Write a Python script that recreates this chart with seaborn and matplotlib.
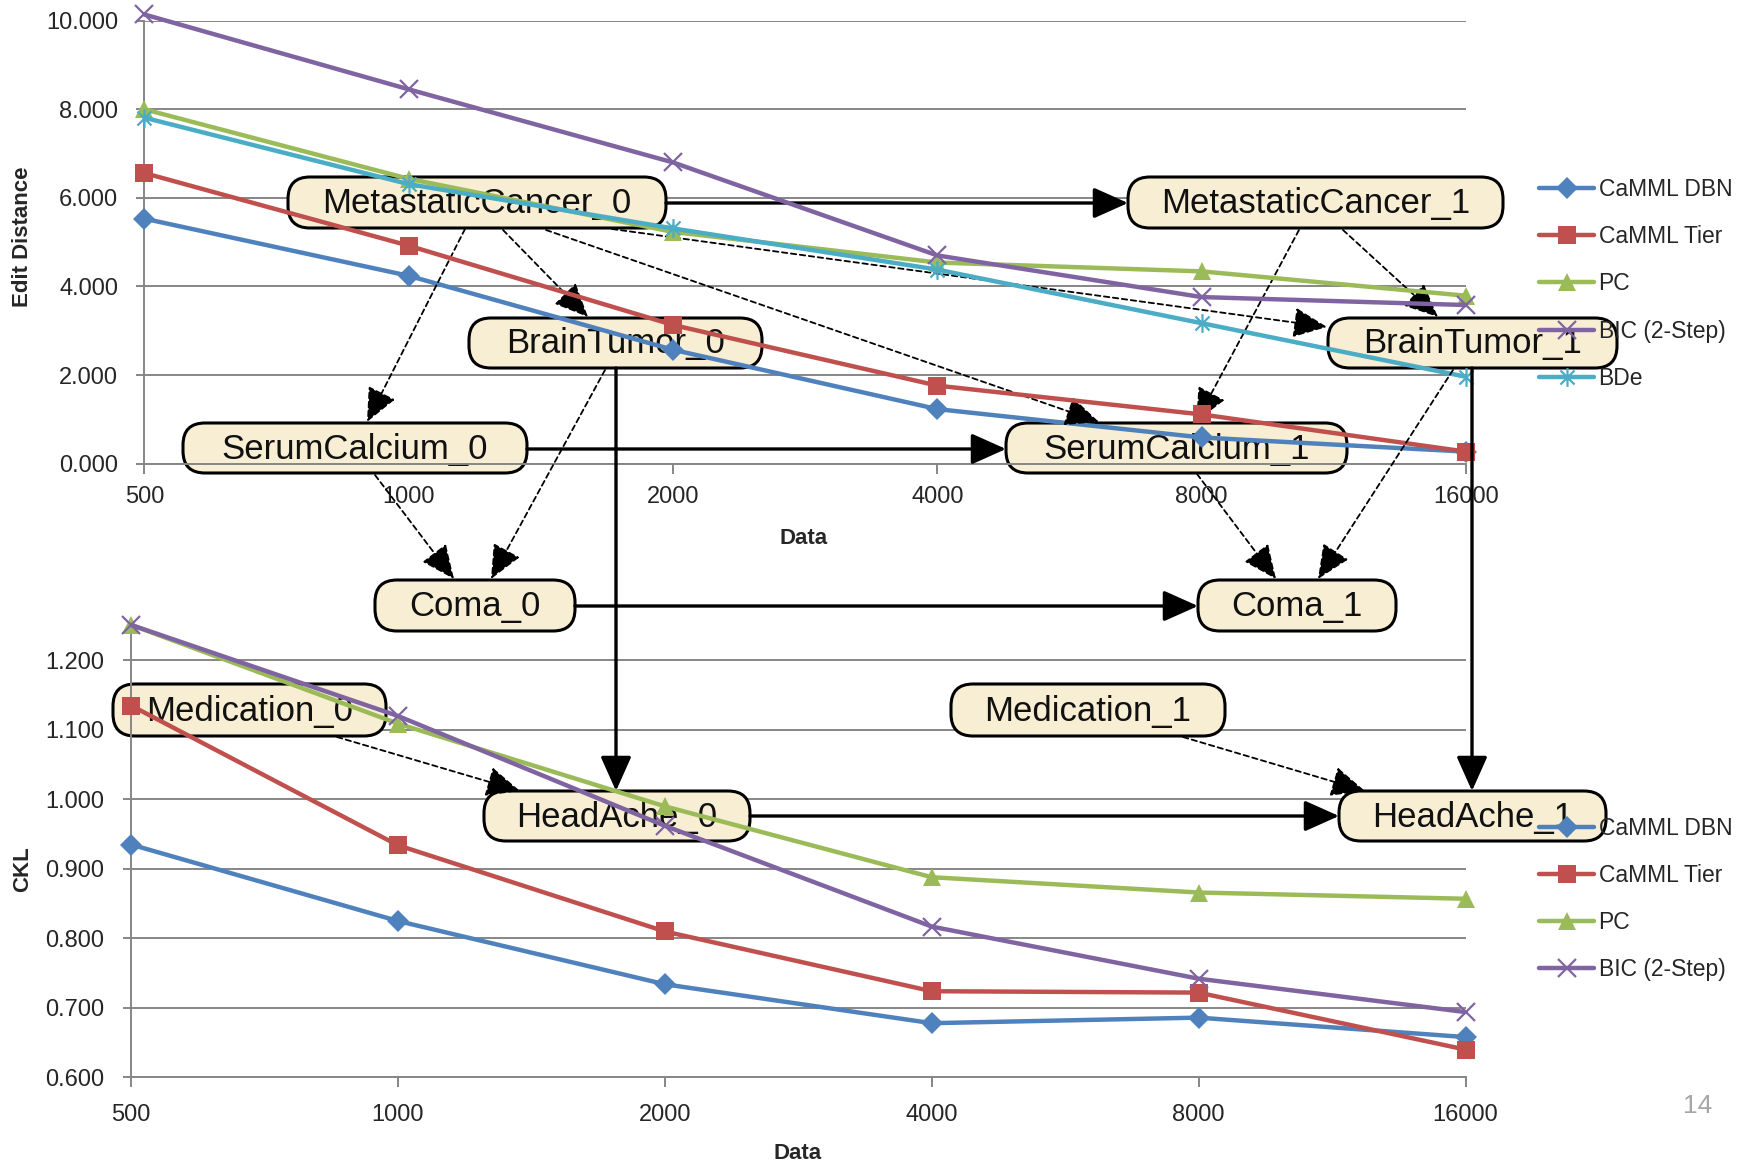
"""Edit distance / CKL line charts with the DBN structure drawn over them."""

import matplotlib
import numpy as np
import seaborn as sns

matplotlib.use("Agg")
import matplotlib.pyplot as plt
from matplotlib.patches import FancyBboxPatch
from matplotlib.path import Path
from matplotlib.transforms import Affine2D

# ---- data ----
data_sizes = ["500", "1000", "2000", "4000", "8000", "16000"]

edit_camml_dbn = [5.53, 4.24, 2.57, 1.23, 0.59, 0.27]
edit_camml_tier = [6.56, 4.92, 3.13, 1.76, 1.11, 0.27]
edit_pc = [8.00, 6.43, 5.23, 4.54, 4.34, 3.79]
edit_bic = [10.14, 8.45, 6.80, 4.70, 3.76, 3.58]
edit_bde = [7.81, 6.31, 5.31, 4.38, 3.17, 1.96]

ckl_camml_dbn = [0.935, 0.825, 0.734, 0.678, 0.686, 0.658]
ckl_camml_tier = [1.135, 0.934, 0.810, 0.724, 0.722, 0.640]
ckl_pc = [1.251, 1.109, 0.990, 0.888, 0.866, 0.857]
ckl_bic = [1.251, 1.120, 0.962, 0.817, 0.742, 0.694]

method_names = ["CaMML DBN", "CaMML Tier", "PC", "BIC (2-Step)", "BDe"]

# ---- network drawn over the charts (pixel layout, y downwards) ----
nodes = {
    "MetastaticCancer_0": (288, 177, 378, 51),
    "MetastaticCancer_1": (1128, 177, 375, 51),
    "BrainTumor_0": (469, 318, 293, 50),
    "BrainTumor_1": (1328, 318, 289, 50),
    "SerumCalcium_0": (183, 423, 344, 50),
    "SerumCalcium_1": (1006, 423, 341, 50),
    "Coma_0": (375, 580, 200, 51),
    "Coma_1": (1198, 580, 198, 51),
    "Medication_0": (113, 684, 273, 52),
    "Medication_1": (951, 684, 274, 52),
    "HeadAche_0": (484, 791, 266, 50),
    "HeadAche_1": (1339, 791, 267, 50),
}
top_nodes = ["MetastaticCancer_0", "MetastaticCancer_1", "BrainTumor_0",
             "BrainTumor_1", "SerumCalcium_0", "SerumCalcium_1"]

# (start, tip, solid?, drawn in top chart?)
edges = [
    ((666, 203), (1128, 203), True, True),
    ((465, 229), (367, 422), False, True),
    ((503, 230), (588, 317), False, True),
    ((546, 230), (1099, 422), False, True),
    ((612, 229), (1327, 327), False, True),
    ((1299, 230), (1196, 422), False, True),
    ((1343, 230), (1438, 317), False, True),
    ((527, 449), (1006, 449), True, True),
    ((605, 370), (491, 579), False, False),
    ((375, 475), (454, 579), False, False),
    ((616, 368), (616, 791), True, False),
    ((1453, 370), (1318, 579), False, False),
    ((1197, 474), (1276, 579), False, False),
    ((1472, 368), (1472, 791), True, False),
    ((575, 606), (1198, 606), True, False),
    ((337, 737), (520, 791), False, False),
    ((1183, 737), (1365, 791), False, False),
    ((750, 816), (1339, 816), True, False),
]

W, H = 1752, 1165
colors = ["#4F81BD", "#C0504D", "#9BBB59", "#8064A2", "#4BACC6"]
star = Path([(0, -1), (0, 1), (-0.75, -0.75), (0.75, 0.75), (-0.75, 0.75), (0.75, -0.75)],
            [Path.MOVETO, Path.LINETO] * 3)
markers = ["D", "s", "^", "x", star]
msizes = [11, 13, 12.5, 13.5, 13.5]
grey = "#868686"

sns.set_theme(style="white")
plt.rcParams["font.family"] = ["Liberation Sans", "DejaVu Sans"]

fig = plt.figure(figsize=(W / 100, H / 100), dpi=100)
fig.patch.set_facecolor("white")
px = Affine2D().scale(1 / W, -1 / H).translate(0, 1) + fig.transFigure


def rect(x0, y_top, x1, y_bot):
    return [x0 / W, 1 - y_bot / H, (x1 - x0) / W, (y_bot - y_top) / H]


ax_top = fig.add_axes(rect(144.4, 20.7, 1466, 463.6))
ax_bot = fig.add_axes(rect(131, 625.6, 1465.5, 1077.4))


def draw_series(ax, series):
    xpos = np.arange(len(data_sizes))
    for i, values in enumerate(series):
        filled = markers[i] in ("D", "s", "^")
        sns.lineplot(x=xpos, y=values, ax=ax, color=colors[i], lw=3.2,
                     marker=markers[i], markersize=msizes[i],
                     markeredgewidth=0 if filled else 1.6,
                     markeredgecolor=colors[i],
                     markerfacecolor=colors[i] if filled else "none",
                     label=method_names[i], clip_on=False, zorder=3 + i * 0.01,
                     errorbar=None)


def style_axes(ax, ylim, yticks, label_pad):
    ax.set_facecolor("none")
    ax.set_xlim(0, len(data_sizes) - 1)
    ax.set_ylim(*ylim)
    ax.set_xticks(np.arange(len(data_sizes)), data_sizes)
    ax.set_yticks(yticks, [f"{v:.3f}" for v in yticks])
    ax.set_axisbelow(True)
    ax.grid(axis="y", color=grey, lw=1.4)
    ax.grid(axis="x", visible=False)
    for side in ("top", "right"):
        ax.spines[side].set_visible(False)
    for side in ("left", "bottom"):
        ax.spines[side].set_color(grey)
        ax.spines[side].set_linewidth(1.4)
    ax.tick_params(axis="y", direction="out", length=6, width=1.4, color=grey,
                   labelsize=17, pad=13, left=True)
    ax.tick_params(axis="x", direction="out", length=7, width=1.4, color=grey,
                   labelsize=17, pad=label_pad, bottom=True)


def draw_network(ax, names, in_top):
    for name in names:
        x, y, w, h = nodes[name]
        box = FancyBboxPatch((x, y), w, h, boxstyle="round,pad=0,rounding_size=22",
                             transform=px, fc="#F7EED3", ec="black", lw=2.2,
                             clip_on=False, zorder=1.2)
        ax.add_patch(box)
        ax.text(x + w / 2, y + h / 2 + 1, name, transform=px, ha="center",
                va="center", fontsize=25, color="#111111", clip_on=False, zorder=1.3)
    for start, tip, solid, top in edges:
        if top != in_top:
            continue
        props = dict(arrowstyle="-|>,head_length=0.85,head_width=0.38",
                     mutation_scale=25, color="black", shrinkA=0, shrinkB=0,
                     lw=2.4 if solid else 1.3, linestyle="-" if solid else (0, (3, 2)),
                     clip_on=False, zorder=1.1)
        ax.annotate("", xy=tip, xycoords=px, xytext=start, textcoords=px,
                    arrowprops=props, annotation_clip=False)


# top chart: edit distance
draw_series(ax_top, [edit_camml_dbn, edit_camml_tier, edit_pc, edit_bic, edit_bde])
style_axes(ax_top, (0, 10), np.arange(0, 10.1, 2), 9)
ax_top.set_xlabel("Data", fontsize=16, fontweight="bold")
ax_top.xaxis.set_label_coords((804 - 144.4) / 1321.6, (463.6 - 528) / 442.9)
ax_top.set_ylabel("Edit Distance", fontsize=16, fontweight="bold")
ax_top.yaxis.set_label_coords((33 - 144.4) / 1321.6, (463.6 - 237) / 442.9)
draw_network(ax_top, top_nodes, True)
ax_top.legend(loc="center left", bbox_to_anchor=(1539, 284), bbox_transform=px,
              frameon=False, fontsize=16.5, handlelength=2.4, handletextpad=0.2,
              labelspacing=1.05, borderpad=0, borderaxespad=0, numpoints=1)

# bottom chart: CKL
draw_series(ax_bot, [ckl_camml_dbn, ckl_camml_tier, ckl_pc, ckl_bic])
style_axes(ax_bot, (0.6, 1.25), np.round(np.arange(0.6, 1.21, 0.1), 1), 12)
ax_bot.set_xlabel("Data", fontsize=16, fontweight="bold")
ax_bot.xaxis.set_label_coords((798 - 131) / 1334.5, (1077.4 - 1143) / 451.8)
ax_bot.set_ylabel("CKL", fontsize=16, fontweight="bold")
ax_bot.yaxis.set_label_coords((33 - 131) / 1334.5, (1077.4 - 869) / 451.8)
draw_network(ax_bot, [n for n in nodes if n not in top_nodes], False)
ax_bot.legend(loc="center left", bbox_to_anchor=(1539, 899), bbox_transform=px,
              frameon=False, fontsize=16.5, handlelength=2.4, handletextpad=0.2,
              labelspacing=1.05, borderpad=0, borderaxespad=0, numpoints=1)

fig.text(1698 / W, 1 - 1106 / H, "14", ha="center", va="center",
         fontsize=19, color="#A6A6A6")

fig.savefig("out.png", dpi=100)
plt.close(fig)
